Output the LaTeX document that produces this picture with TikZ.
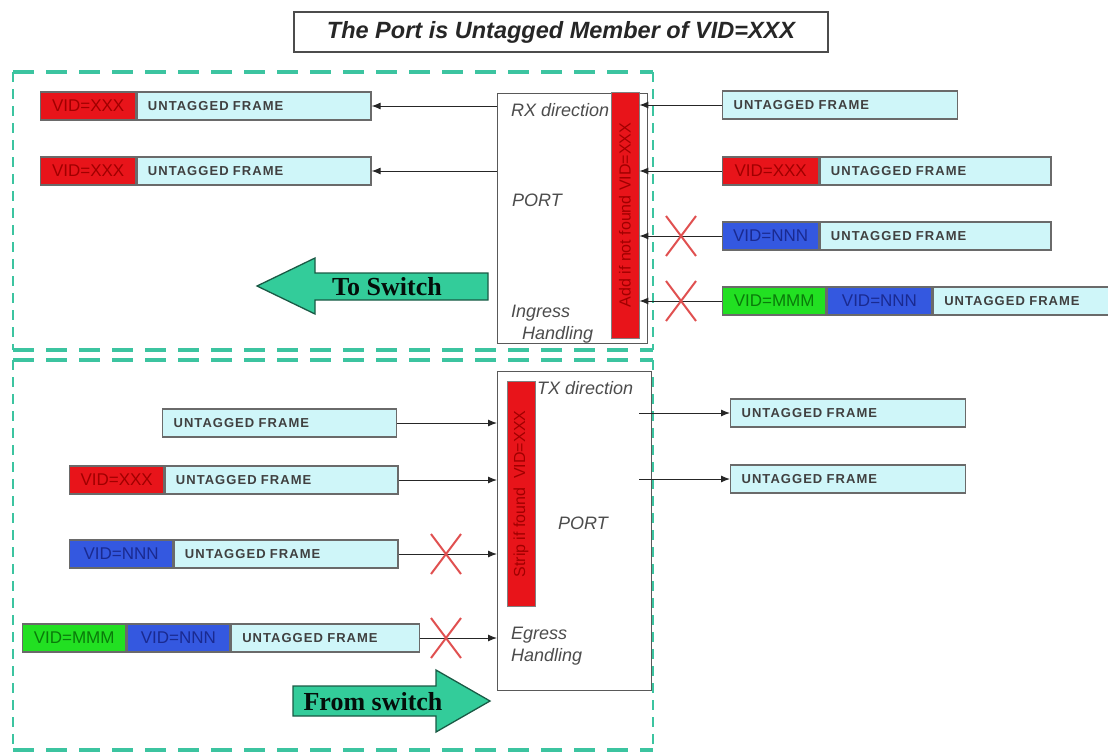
\documentclass[tikz,border=0pt]{standalone}
\usepackage{fontspec}
\setmainfont{Liberation Sans}
\newfontfamily\serifb{Liberation Serif}
\newfontfamily\spaced[LetterSpace=8]{Liberation Sans}
\usetikzlibrary{calc,shapes.misc,arrows.meta}
\definecolor{tagred}{HTML}{E8141A}
\definecolor{tagredtxt}{HTML}{A00000}
\definecolor{tagblue}{HTML}{3458E0}
\definecolor{tagbluetxt}{HTML}{1A2A90}
\definecolor{taggreen}{HTML}{22E022}
\definecolor{taggreentxt}{HTML}{0A7A0A}
\definecolor{framecyan}{HTML}{CFF6F9}
\definecolor{frameline}{HTML}{6A6A6A}
\definecolor{dashteal}{HTML}{3CC4A0}
\definecolor{arrowfill}{HTML}{33CC9A}
\definecolor{arrowline}{HTML}{1A5A45}
\definecolor{xred}{HTML}{E05050}
\tikzset{
  frm/.style={draw=frameline, line width=1.3pt, minimum height=28pt, inner ysep=0pt, anchor=west, font=\spaced\bfseries\fontsize{13}{13}\selectfont, text=black!75},
  cyanf/.style={frm, fill=framecyan, inner xsep=11pt, align=left, text width=#1},
  tagbox/.style={frm, inner xsep=1pt, minimum width=#1, font=\fontsize{17}{17}\selectfont},
  tred/.style={tagbox=#1, fill=tagred, text=tagredtxt},
  tblue/.style={tagbox=#1, fill=tagblue, text=tagbluetxt},
  tgreen/.style={tagbox=#1, fill=taggreen, text=taggreentxt},
  portbox/.style={draw=black!65, line width=1.3pt, fill=white, anchor=north west},
  redbar/.style={draw=black!50, line width=0.8pt, fill=tagred, rotate=90, inner sep=0pt, text=tagredtxt, font=\fontsize{16}{16}\selectfont},
  ptext/.style={font=\fontsize{18}{18}\selectfont\itshape, text=black!70, inner sep=0pt},
  arr/.style={draw=black!85, line width=1pt, -{Latex[length=9pt,width=7pt]}},
  xmark/.style={cross out, draw=xred, line width=2pt, minimum width=28pt, minimum height=38pt, inner sep=0pt},
  hdash/.style={draw=dashteal, line width=3.5pt, dash pattern=on 21pt off 12pt},
  vdash/.style={draw=dashteal, line width=2pt, dash pattern=on 10pt off 7pt},
  bigarrow/.style={draw=arrowline, line width=1.3pt, fill=arrowfill},
  bigtext/.style={font=\serifb\bfseries\fontsize{26}{26}\selectfont, text=black!85!arrowline, inner sep=0pt}
}
\begin{document}
\begin{tikzpicture}[x=1pt,y=-1pt]
\useasboundingbox (0,0) rectangle (1108,755);
% dashed areas
\draw[hdash] (13,72) -- (653,72);
\draw[hdash] (13,350) -- (653,350);
\draw[vdash] (13,72) -- (13,350);
\draw[vdash] (653,72) -- (653,350);
\draw[hdash] (13,360) -- (653,360);
\draw[hdash] (13,750) -- (653,750);
\draw[vdash] (13,360) -- (13,750);
\draw[vdash] (653,360) -- (653,750);
% title
\node[draw=black!70, line width=1.5pt, fill=white, minimum width=534pt, minimum height=40pt, font=\fontsize{23.5}{23.5}\selectfont\bfseries\itshape, text=black!85] (title) at (561,32) {The Port is Untagged Member of VID=XXX};
% ---------- top: RX ----------
\node[portbox, minimum width=150pt, minimum height=250pt] (ptop) at (497,93) {};
\node[ptext, anchor=west] (rxd) at (511,110) {RX direction};
\node[ptext] (portT) at (537,200) {PORT};
\node[ptext, anchor=west] (ingr) at (511,313) {Ingress};
\node[ptext, anchor=west] (hdlT) at (522,335) {Handling};
\node[redbar, minimum width=246pt, minimum height=28pt] (barT) at (625,215) {Add if not found VID=XXX};
% left frames (to switch)
\node[tred=95pt] (lt1a) at (40,106) {VID=XXX};
\node[cyanf=212pt] (lt1b) at (lt1a.east) {UNTAGGED FRAME};
\node[tred=95pt] (lt2a) at (40,171) {VID=XXX};
\node[cyanf=212pt] (lt2b) at (lt2a.east) {UNTAGGED FRAME};
\draw[arr] (ptop.west |- lt1b.east) -- (lt1b.east);
\draw[arr] (ptop.west |- lt2b.east) -- (lt2b.east);
% right frames (ingress)
\node[cyanf=213pt] (rt1) at (722,105) {UNTAGGED FRAME};
\node[tred=96pt] (rt2a) at (722,171) {VID=XXX};
\node[cyanf=209pt] (rt2b) at (rt2a.east) {UNTAGGED FRAME};
\node[tblue=96pt] (rt3a) at (722,236) {VID=NNN};
\node[cyanf=209pt] (rt3b) at (rt3a.east) {UNTAGGED FRAME};
\node[tgreen=103pt] (rt4a) at (722,301) {VID=MMM};
\node[tblue=105pt] (rt4b) at (rt4a.east) {VID=NNN};
\node[cyanf=153pt] (rt4c) at (rt4b.east) {UNTAGGED FRAME};
\draw[arr] (rt1.west) -- (rt1.west -| barT.south);
\draw[arr] (rt2a.west) -- (rt2a.west -| barT.south);
\draw[arr] (rt3a.west) -- (rt3a.west -| barT.south);
\draw[arr] (rt4a.west) -- (rt4a.west -| barT.south);
\node[xmark] (xt3) at (681,236) {};
\node[xmark] (xt4) at (681,301) {};
% to switch arrow
\draw[bigarrow] (257,286) -- (315,258) -- (315,273) -- (488,273) -- (488,300) -- (315,300) -- (315,314) -- cycle;
\node[bigtext] (tosw) at (387,287) {To Switch};
% ---------- bottom: TX ----------
\node[portbox, minimum width=154pt, minimum height=319pt] (pbot) at (497,371) {};
\node[ptext, anchor=west] (txd) at (537,388) {TX direction};
\node[ptext] (portB) at (583,523) {PORT};
\node[ptext, anchor=west] (egr) at (511,635) {Egress};
\node[ptext, anchor=west] (hdlB) at (511,657) {Handling};
\node[redbar, minimum width=225pt, minimum height=28pt] (barB) at (521,494) {Strip if found\ \ VID=XXX};
% left frames (from switch)
\node[cyanf=212pt] (bl1) at (162,423) {UNTAGGED FRAME};
\node[tred=94pt] (bl2a) at (69,480) {VID=XXX};
\node[cyanf=211pt] (bl2b) at (bl2a.east) {UNTAGGED FRAME};
\node[tblue=103pt] (bl3a) at (69,554) {VID=NNN};
\node[cyanf=202pt] (bl3b) at (bl3a.east) {UNTAGGED FRAME};
\node[tgreen=103pt] (bl4a) at (22,638) {VID=MMM};
\node[tblue=103pt] (bl4b) at (bl4a.east) {VID=NNN};
\node[cyanf=166pt] (bl4c) at (bl4b.east) {UNTAGGED FRAME};
\draw[arr] (bl1.east) -- (bl1.east -| pbot.west);
\draw[arr] (bl2b.east) -- (bl2b.east -| pbot.west);
\draw[arr] (bl3b.east) -- (bl3b.east -| pbot.west);
\draw[arr] (bl4c.east) -- (bl4c.east -| pbot.west);
\node[xmark] (xb3) at (446,554) {};
\node[xmark] (xb4) at (446,638) {};
% right frames (egress)
\node[cyanf=213pt] (br1) at (730,413) {UNTAGGED FRAME};
\node[cyanf=213pt] (br2) at (730,479) {UNTAGGED FRAME};
\coordinate (s1) at ($(br1.west -| pbot.east)+(-13,0)$);
\coordinate (s2) at ($(br2.west -| pbot.east)+(-13,0)$);
\draw[arr] (s1) -- (br1.west);
\draw[arr] (s2) -- (br2.west);
% from switch arrow
\draw[bigarrow] (490,701) -- (436,670) -- (436,686) -- (293,686) -- (293,716) -- (436,716) -- (436,732) -- cycle;
\node[bigtext] (fromsw) at (373,702) {From switch};
\end{tikzpicture}
\end{document}
